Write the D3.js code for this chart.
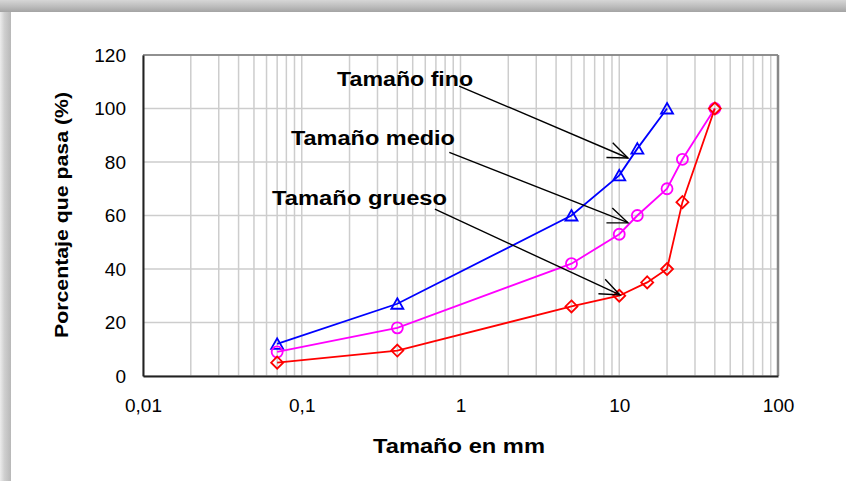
<!DOCTYPE html>
<html>
<head>
<meta charset="utf-8">
<script src="https://cdn.jsdelivr.net/npm/d3@7/dist/d3.min.js"></script>
<style>
  html, body { margin: 0; padding: 0; background: #fff; }
  svg { display: block; }
  text { font-family: "Liberation Sans", Arial, sans-serif; fill: #000; }
</style>
</head>
<body>
<svg id="chart" width="846" height="481"></svg>
<script>
// Granulometric curves: percentage passing vs particle size (mm), log scale
const finoSize   = [0.07, 0.4, 5, 10, 13, 20];
const finoPass   = [12, 27, 60, 75, 85, 100];
const medioSize  = [0.07, 0.4, 5, 10, 13, 20, 25, 40];
const medioPass  = [9, 18, 42, 53, 60, 70, 81, 100];
const gruesoSize = [0.07, 0.4, 5, 10, 15, 20, 25, 40];
const gruesoPass = [5, 9.5, 26, 30, 35, 40, 65, 100];

const xTickValues = [0.01, 0.1, 1, 10, 100];
const xTickLabels = ["0,01", "0,1", "1", "10", "100"];
const yTickValues = [0, 20, 40, 60, 80, 100, 120];

// Callout labels (text position, arrow start, arrow tip — all in data units)
const annLabels = ["Tamaño fino", "Tamaño medio", "Tamaño grueso"];
const annTextX  = [0.167, 0.0855, 0.065];
const annTextY  = [108.4, 86.4, 63.9];
const annFromX  = [0.98, 0.85, 0.69];
const annFromY  = [108.4, 83.6, 62.4];
const annToX    = [11.35, 11.35, 10.1];
const annToY    = [81.5, 57.3, 30.3];

const svg = d3.select("#chart");

// Soft window frame along the top and left edges
const defs = svg.append("defs");
const gTop = defs.append("linearGradient").attr("id", "topBand")
  .attr("x1", 0).attr("y1", 0).attr("x2", 0).attr("y2", 1);
gTop.append("stop").attr("offset", "0%").attr("stop-color", "#d6d6d6");
gTop.append("stop").attr("offset", "55%").attr("stop-color", "#bcbcbc");
gTop.append("stop").attr("offset", "100%").attr("stop-color", "#a4a4a4");
const gLeft = defs.append("linearGradient").attr("id", "leftBand")
  .attr("x1", 0).attr("y1", 0).attr("x2", 1).attr("y2", 0);
gLeft.append("stop").attr("offset", "0%").attr("stop-color", "#ececec");
gLeft.append("stop").attr("offset", "40%").attr("stop-color", "#cfcfcf");
gLeft.append("stop").attr("offset", "100%").attr("stop-color", "#b8b8b8");

svg.append("rect").attr("x", 0).attr("y", 0).attr("width", 11).attr("height", 481)
  .attr("fill", "url(#leftBand)");
svg.append("rect").attr("x", 0).attr("y", 0).attr("width", 846).attr("height", 12)
  .attr("fill", "url(#topBand)");

defs.append("marker").attr("id", "openArrow")
  .attr("viewBox", "-22 -10 24 20").attr("refX", 0).attr("refY", 0)
  .attr("markerWidth", 24).attr("markerHeight", 20)
  .attr("markerUnits", "userSpaceOnUse").attr("orient", "auto")
  .append("path").attr("d", "M-20,-8 L0,0 L-20,8")
  .attr("fill", "none").attr("stroke", "#000").attr("stroke-width", 1.4);

const x = d3.scaleLog().domain([0.01, 100]).range([143, 778]);
const y = d3.scaleLinear().domain([0, 120]).range([376, 55]);

// Grid
const grid = svg.append("g");
grid.selectAll("line.v").data(x.ticks()).join("line")
  .attr("x1", d => x(d)).attr("x2", d => x(d))
  .attr("y1", y(0)).attr("y2", y(120))
  .attr("stroke", "#cdcdcd").attr("stroke-width", 1.5);
grid.selectAll("line.h").data(yTickValues).join("line")
  .attr("x1", x(0.01)).attr("x2", x(100))
  .attr("y1", d => y(d)).attr("y2", d => y(d))
  .attr("stroke", "#cdcdcd").attr("stroke-width", 1.5);

// Plot frame: grey top/right, dark axes left/bottom
svg.append("line").attr("x1", x(0.01)).attr("x2", x(100)).attr("y1", y(120)).attr("y2", y(120))
  .attr("stroke", "#777").attr("stroke-width", 1.6);
svg.append("line").attr("x1", x(100)).attr("x2", x(100)).attr("y1", y(120)).attr("y2", y(0))
  .attr("stroke", "#888").attr("stroke-width", 2.5);

const xAxis = svg.append("g").attr("transform", `translate(0,${y(0)})`)
  .call(d3.axisBottom(x).tickValues(xTickValues)
    .tickFormat((d, i) => xTickLabels[i]).tickSize(0).tickPadding(23));
const yAxis = svg.append("g").attr("transform", `translate(${x(0.01)},0)`)
  .call(d3.axisLeft(y).tickValues(yTickValues).tickSize(0).tickPadding(17));
[xAxis, yAxis].forEach(a => {
  a.select(".domain").attr("stroke", "#222").attr("stroke-width", 2);
  a.selectAll("text").style("font-family", "'Liberation Sans', Arial, sans-serif")
    .style("font-size", "19px").attr("fill", "#000");
});

// Axis titles
svg.append("text").attr("x", 459).attr("y", 453).attr("text-anchor", "middle")
  .attr("font-size", 20).attr("font-weight", "bold")
  .attr("textLength", 172).attr("lengthAdjust", "spacingAndGlyphs")
  .text("Tamaño en mm");
svg.append("text").attr("transform", "translate(68,215) rotate(-90)")
  .attr("text-anchor", "middle").attr("font-size", 18).attr("font-weight", "bold")
  .attr("textLength", 246).attr("lengthAdjust", "spacingAndGlyphs")
  .text("Porcentaje que pasa (%)");

// Series
const series = [
  { sx: finoSize,   sy: finoPass,   color: "#0000ff", shape: "triangle" },
  { sx: medioSize,  sy: medioPass,  color: "#ff00ff", shape: "circle" },
  { sx: gruesoSize, sy: gruesoPass, color: "#ff0000", shape: "diamond" }
];
const line = d3.line().x(d => x(d[0])).y(d => y(d[1]));
const markerPath = {
  triangle: "M0,-5.5 L6,5 L-6,5 Z",
  diamond: "M0,-6 L6,0 L0,6 L-6,0 Z"
};

series.forEach(s => {
  const pts = s.sx.map((v, i) => [v, s.sy[i]]);
  const g = svg.append("g");
  g.append("path").datum(pts).attr("d", line)
    .attr("fill", "none").attr("stroke", s.color).attr("stroke-width", 1.8);
  if (s.shape === "circle") {
    g.selectAll("circle").data(pts).join("circle")
      .attr("cx", d => x(d[0])).attr("cy", d => y(d[1])).attr("r", 5.5)
      .attr("fill", "none").attr("stroke", s.color).attr("stroke-width", 1.8);
  } else {
    g.selectAll("path.m").data(pts).join("path").attr("class", "m")
      .attr("transform", d => `translate(${x(d[0])},${y(d[1])})`)
      .attr("d", markerPath[s.shape])
      .attr("fill", "none").attr("stroke", s.color).attr("stroke-width", 1.8);
  }
});

// Callouts
const ann = svg.append("g");
annLabels.forEach((label, i) => {
  ann.append("line")
    .attr("x1", x(annFromX[i])).attr("y1", y(annFromY[i]))
    .attr("x2", x(annToX[i])).attr("y2", y(annToY[i]))
    .attr("stroke", "#000").attr("stroke-width", 1.4)
    .attr("marker-end", "url(#openArrow)");
  const w = [136, 164, 175][i];
  ann.append("text").attr("x", x(annTextX[i])).attr("y", y(annTextY[i]))
    .attr("font-size", 20).attr("font-weight", "bold")
    .attr("textLength", w).attr("lengthAdjust", "spacingAndGlyphs")
    .text(label);
});
</script>
</body>
</html>
